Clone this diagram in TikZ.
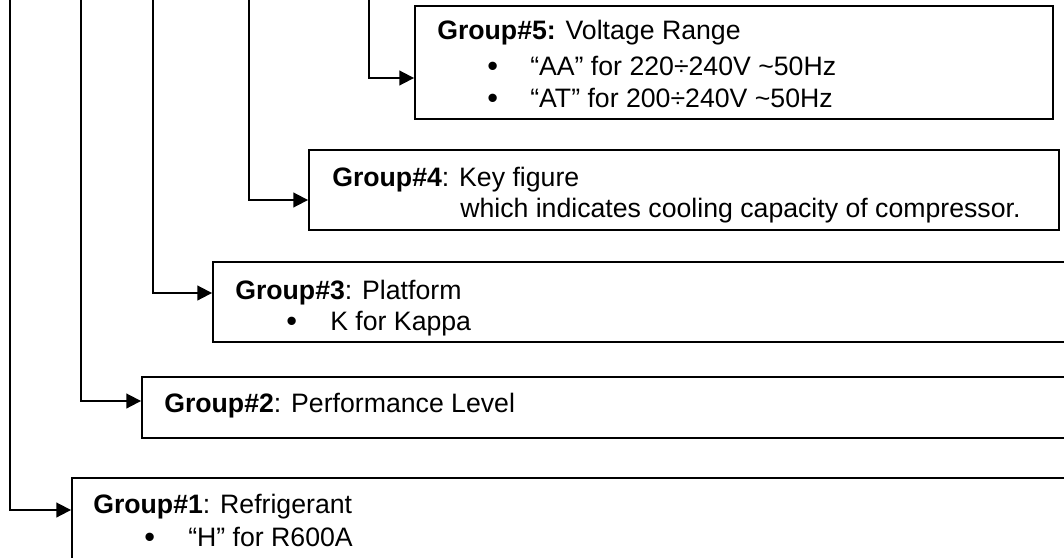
\documentclass[tikz,border=0pt]{standalone}
\usepackage{fontspec}
\setmainfont{Liberation Sans}
\usetikzlibrary{
  arrows.meta,
  fit
}
\tikzset{
  grpbox/.style={
    draw,
    line width=1.4pt,
    inner sep=0pt
  },
  grparrow/.style={
    -{Triangle[length=11pt,width=11pt]},
    line width=1.4pt
  },
  grptext/.style={
    anchor=base west,
    inner sep=0pt,
    font=\fontsize{20}{24}\selectfont
  },
  grpdot/.style={
    anchor=base west,
    inner sep=0pt,
    font=\fontsize{23}{24}\selectfont
  }
}

\begin{document}
\begin{tikzpicture}[x=0.75pt, y=-0.75pt]
  \clip (0,0) rectangle (1064,557);

  % Code groups, top to bottom
  \node[grpbox, fit={(415,6) (1053,119)}] (g5) {};
  \node[grpbox, fit={(309,150) (1059,230)}] (g4) {};
  \node[grpbox, fit={(213,262) (1090,342)}] (g3) {};
  \node[grpbox, fit={(142,377) (1090,438)}] (g2) {};
  \node[grpbox, fit={(72,478) (1090,600)}] (g1) {};

  \node[grptext] (g5head) at (437,39) {\textbf{Group\#5:} Voltage Range};
  \node[grpdot] (g5dot1) at (487,76) {•};
  \node[grptext] (g5aa) at (530,75) {“AA” for 220÷240V \textasciitilde50Hz};
  \node[grpdot] (g5dot2) at (487,108) {•};
  \node[grptext] (g5at) at (530,107) {“AT” for 200÷240V \textasciitilde50Hz};

  \node[grptext] (g4head) at (332,186) {\textbf{Group\#4}: Key figure};
  \node[grptext] (g4line) at (460,217) {which indicates cooling capacity of compressor.};

  \node[grptext] (g3head) at (235,299) {\textbf{Group\#3}: Platform};
  \node[grpdot] (g3dot) at (286,331) {•};
  \node[grptext] (g3k) at (330,330) {K for Kappa};

  \node[grptext] (g2head) at (164,412) {\textbf{Group\#2}: Performance Level};

  \node[grptext] (g1head) at (93,513) {\textbf{Group\#1}: Refrigerant};
  \node[grpdot] (g1dot) at (144,547) {•};
  \node[grptext] (g1h) at (188,546) {“H” for R600A};

  % Feed lines coming down from the code above
  \coordinate (t5) at (369,-5);
  \coordinate (t4) at (249,-5);
  \coordinate (t3) at (153,-5);
  \coordinate (t2) at (81,-5);
  \coordinate (t1) at (10,-5);

  \draw[grparrow] (t5) |- (g5.west |- 0,78);
  \draw[grparrow] (t4) |- (g4.west |- 0,200);
  \draw[grparrow] (t3) |- (g3.west |- 0,293);
  \draw[grparrow] (t2) |- (g2.west |- 0,401);
  \draw[grparrow] (t1) |- (g1.west |- 0,510);
\end{tikzpicture}
\end{document}
